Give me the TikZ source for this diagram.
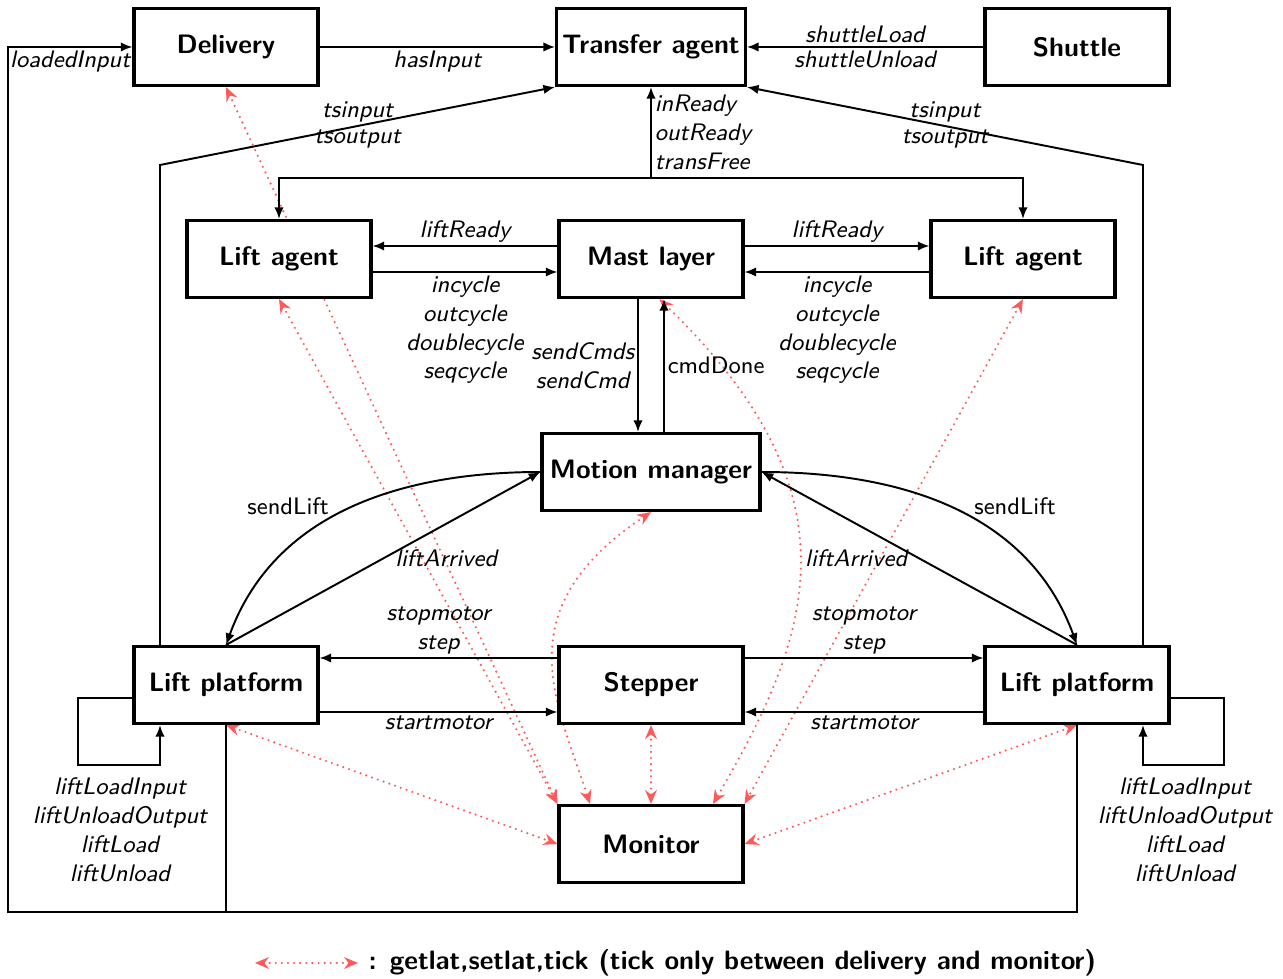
\documentclass[tikz,border=0pt]{standalone}
\usetikzlibrary{arrows.meta,calc,backgrounds}
\definecolor{latred}{RGB}{255,90,90}
\tikzset{
  box/.style={draw, line width=1.15pt, minimum width=66.2pt, minimum height=27.7pt,
    font=\sffamily\bfseries\fontsize{9.6}{11.5}\selectfont, inner sep=2pt, fill=white},
  wire/.style={line width=0.7pt, -{Latex[length=4.2pt,width=3.4pt]}},
  plainwire/.style={line width=0.7pt},
  lbl/.style={font=\sffamily\itshape\fontsize{8.6}{10.4}\selectfont, inner sep=1pt},
  ulbl/.style={font=\sffamily\fontsize{8.6}{10.4}\selectfont, inner sep=1pt},
  lat/.style={latred, line width=0.85pt, line cap=round, dash pattern=on 0pt off 2.2pt,
    {Stealth[length=5pt,width=4.2pt]}-{Stealth[length=5pt,width=4.2pt]}},
}
\begin{document}
\begin{tikzpicture}[x=0.36pt, y=-0.36pt]
\useasboundingbox (0,0) rectangle (1283,979);

% components
\node[box] (del)  at (226,47)   {Delivery};
\node[box] (ta)   at (651,47)   {Transfer agent};
\node[box] (sh)   at (1077,47)  {Shuttle};
\node[box] (la)   at (279,259)  {Lift agent};
\node[box] (mast) at (651,259)  {Mast layer};
\node[box] (ra)   at (1023,259) {Lift agent};
\node[box, minimum width=78.5pt] (mm) at (651,472) {Motion manager};
\node[box] (lpl)  at (226,685)  {Lift platform};
\node[box] (st)   at (651,685)  {Stepper};
\node[box] (lpr)  at (1077,685) {Lift platform};
\node[box] (mon)  at (651,844)  {Monitor};

% routing points
\coordinate (corner) at (8,912);
\coordinate (tsl) at (160,165);
\coordinate (tsr) at (1143,165);
\coordinate (bus) at (651,178);
\coordinate (sll) at (78,765);
\coordinate (slr) at (1224,765);

% latency links (getlat / setlat / tick)
\begin{scope}[on background layer]
\draw[lat] (del.south) -- (mon.north west);
\draw[lat] (la.south) -- (mon.north west);
\draw[lat] (ra.south) -- (mon.north east);
\draw[lat] (st.south) -- (mon.north);
\draw[lat] (lpl.south) -- (mon.west);
\draw[lat] (lpr.south) -- (mon.east);
\draw[lat] (mm.south) .. controls (504,610) and (557,702) .. ([xshift=-21.96pt]mon.north);
\draw[lat] ([xshift=3pt]mast.south) .. controls (862,494) and (813,633) .. ([xshift=22.3pt]mon.north);
\end{scope}

% top row
\draw[wire] (del) -- (ta) node[lbl, midway, below] {hasInput};
\draw[wire] (sh) -- (ta) node[lbl, midway, above] {shuttleLoad}
                         node[lbl, midway, below] {shuttleUnload};
\draw[wire] (lpr.south) |- (corner) |- (del.west) node[lbl, pos=0.75, below] {loadedInput};
\draw[plainwire] (lpl.south) -- (lpl.south |- corner);

% platforms to transfer agent
\draw[wire] (lpl.north -| tsl) -- (tsl) -- (ta.south west)
  node[lbl, midway, above] {tsinput} node[lbl, midway, below] {tsoutput};
\draw[wire] (lpr.north -| tsr) -- (tsr) -- (ta.south east)
  node[lbl, midway, above] {tsinput} node[lbl, midway, below] {tsoutput};

% status bus
\draw[wire] (bus) -- (ta.south)
  node[lbl, midway, right, align=left] {inReady\\outReady\\transFree};
\draw[wire] (bus) -| (la.north);
\draw[wire] (bus) -| (ra.north);

% mast layer and lift agents
\draw[wire] ([yshift=4.68pt]mast.west) -- ([yshift=4.68pt]la.east)
  node[lbl, midway, above] {liftReady};
\draw[wire] ([yshift=-4.68pt]la.east) -- ([yshift=-4.68pt]mast.west)
  node[lbl, midway, below, align=center] {incycle\\outcycle\\doublecycle\\seqcycle};
\draw[wire] ([yshift=4.68pt]mast.east) -- ([yshift=4.68pt]ra.west)
  node[lbl, midway, above] {liftReady};
\draw[wire] ([yshift=-4.68pt]ra.west) -- ([yshift=-4.68pt]mast.east)
  node[lbl, midway, below, align=center] {incycle\\outcycle\\doublecycle\\seqcycle};

% mast layer and motion manager
\draw[wire] ([xshift=-4.68pt]mast.south) -- ([xshift=-4.68pt]mm.north)
  node[lbl, midway, left, align=center] {sendCmds\\sendCmd};
\draw[wire] ([xshift=4.68pt]mm.north) -- ([xshift=4.68pt]mast.south)
  node[ulbl, midway, right] {cmdDone};

% motion manager and platforms
\draw[wire] (mm.west) to[out=180, in=70] node[ulbl, midway, left, xshift=-5.8pt, yshift=1pt] {sendLift} (lpl.north);
\draw[wire] (lpl.north) -- (mm.west) node[lbl, midway, right, xshift=3pt] {liftArrived};
\draw[wire] (mm.east) to[out=0, in=110] node[ulbl, midway, right, xshift=6pt, yshift=1pt] {sendLift} (lpr.north);
\draw[wire] (lpr.north) -- (mm.east) node[lbl, midway, left, xshift=-3pt] {liftArrived};

% stepper and platforms
\draw[wire] ([yshift=9.72pt]st.west) -- ([yshift=9.72pt]lpl.east)
  node[lbl, midway, above, align=center] {stopmotor\\step};
\draw[wire] ([yshift=-9.72pt]lpl.east) -- ([yshift=-9.72pt]st.west)
  node[lbl, midway, below] {startmotor};
\draw[wire] ([yshift=9.72pt]st.east) -- ([yshift=9.72pt]lpr.west)
  node[lbl, midway, above, align=center] {stopmotor\\step};
\draw[wire] ([yshift=-9.72pt]lpr.west) -- ([yshift=-9.72pt]st.east)
  node[lbl, midway, below] {startmotor};

% platform self loops
\draw[wire] ([yshift=-4.68pt]lpl.west) -| (sll) -| ([xshift=-23.76pt]lpl.south);
\node[lbl, align=center] (loopl) at (120,830)
  {liftLoadInput\\liftUnloadOutput\\liftLoad\\liftUnload};
\draw[wire] ([yshift=-4.68pt]lpr.east) -| (slr) -| ([xshift=23.76pt]lpr.south);
\node[lbl, align=center] (loopr) at (1185,830)
  {liftLoadInput\\liftUnloadOutput\\liftLoad\\liftUnload};

% legend
\coordinate (legA) at (255,963);
\coordinate (legB) at (358,963);
\draw[lat] (legA) -- (legB);
\node[font=\sffamily\bfseries\fontsize{9.6}{11.5}\selectfont, anchor=west, inner sep=0pt] (legtext) at ([xshift=3.6pt]legB)
  {: getlat,setlat,tick (tick only between delivery and monitor)};
\end{tikzpicture}
\end{document}
